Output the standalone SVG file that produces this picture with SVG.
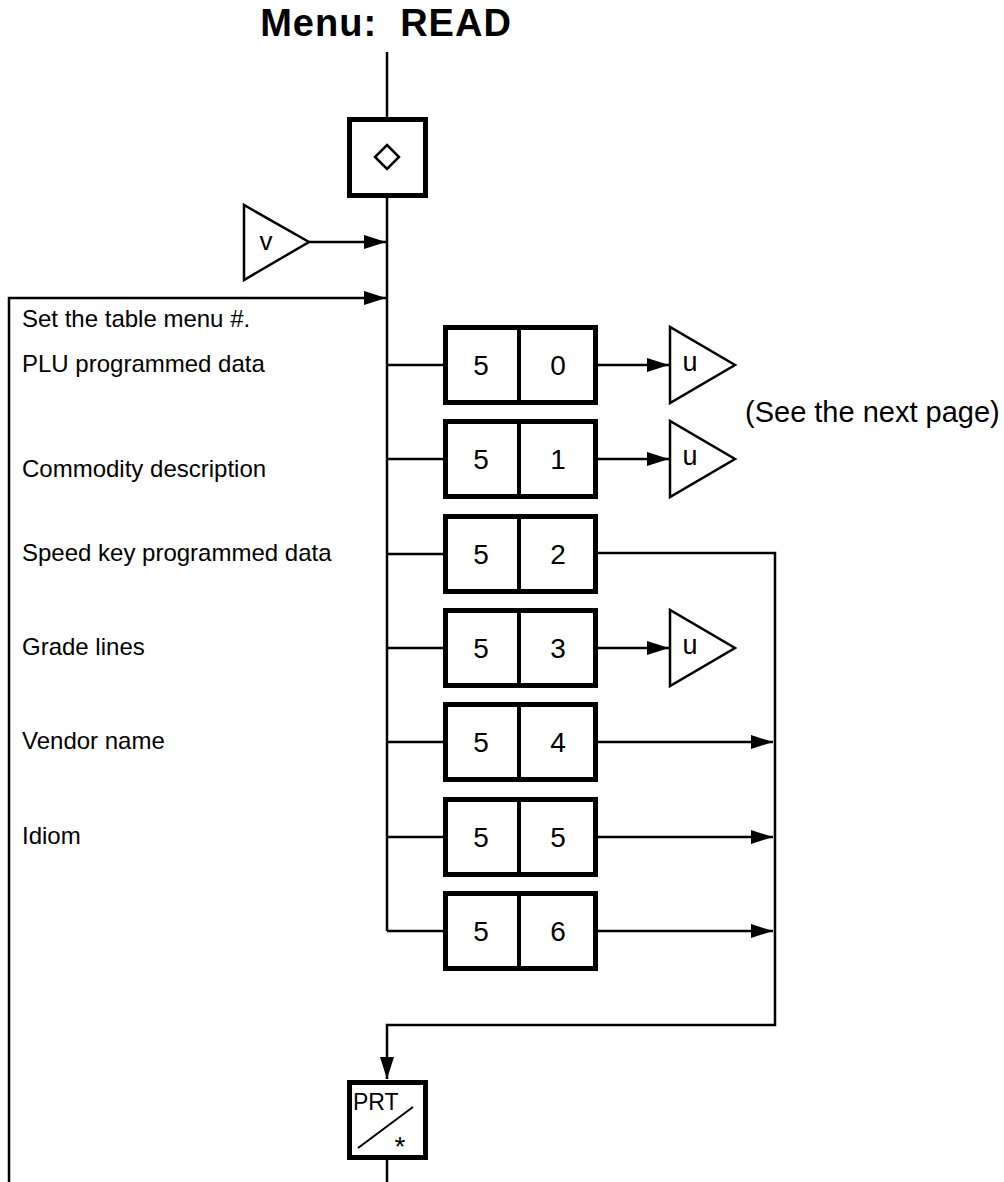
<svg xmlns="http://www.w3.org/2000/svg" width="1004" height="1182" viewBox="0 0 1004 1182">
<style>
text{font-family:"Liberation Sans",Arial,sans-serif;fill:#000}
.ln{fill:none;stroke:#000;stroke-width:2.5}
.box{fill:#fff;stroke:#000;stroke-width:5}
.div{stroke:#000;stroke-width:4}
.tri{fill:#fff;stroke:#000;stroke-width:2.5;stroke-linejoin:miter}
.lbl{font-size:24px}
.dig{font-size:28px;text-anchor:middle}
.sym{font-size:27px;text-anchor:middle}
</style>
<defs>
<marker id="ah" markerUnits="userSpaceOnUse" markerWidth="22" markerHeight="14" viewBox="0 0 22 14" refX="22" refY="7" orient="auto">
<path d="M0,0 L22,7 L0,14 Z" fill="#000"/>
</marker>
</defs>
<text x="386" y="36" font-size="38" font-weight="bold" letter-spacing="1" text-anchor="middle" xml:space="preserve">Menu:  READ</text>
<g id="connectors">
<line class="ln" x1="387" y1="52" x2="387" y2="931"/>
<line class="ln" x1="309" y1="242" x2="386" y2="242" marker-end="url(#ah)"/>
<polyline class="ln" points="9,1182 9,298 386,298" marker-end="url(#ah)"/>
<polyline class="ln" points="387,365 443,365"/>
<polyline class="ln" points="387,459 443,459"/>
<polyline class="ln" points="387,554 443,554"/>
<polyline class="ln" points="387,648 443,648"/>
<polyline class="ln" points="387,742 443,742"/>
<polyline class="ln" points="387,837 443,837"/>
<polyline class="ln" points="387,931 443,931"/>
<line class="ln" x1="597" y1="365" x2="669" y2="365" marker-end="url(#ah)"/>
<line class="ln" x1="597" y1="459" x2="669" y2="459" marker-end="url(#ah)"/>
<line class="ln" x1="597" y1="648" x2="669" y2="648" marker-end="url(#ah)"/>
<polyline class="ln" points="597,553 775,553 775,1025 387,1025 387,1079" marker-end="url(#ah)"/>
<line class="ln" x1="597" y1="742" x2="773" y2="742" marker-end="url(#ah)"/>
<line class="ln" x1="597" y1="837" x2="773" y2="837" marker-end="url(#ah)"/>
<line class="ln" x1="597" y1="931" x2="773" y2="931" marker-end="url(#ah)"/>
<line class="ln" x1="387" y1="1160" x2="387" y2="1182"/>
</g>
<g id="start">
<rect class="box" x="349.5" y="119.5" width="76" height="76"/>
<path d="M387,145 L399,157 L387,169 L375,157 Z" fill="#fff" stroke="#000" stroke-width="2.5"/>
</g>
<g id="v-entry">
<polygon class="tri" points="244,205 244,280 309,242"/>
<text x="266" y="250" font-size="26" text-anchor="middle">v</text>
</g>
<g id="labels">
<text class="lbl" x="22" y="327">Set the table menu #.</text>
<text class="lbl" x="22" y="372">PLU programmed data</text>
<text class="lbl" x="22" y="477">Commodity description</text>
<text class="lbl" x="22" y="561">Speed key programmed data</text>
<text class="lbl" x="22" y="655">Grade lines</text>
<text class="lbl" x="22" y="749">Vendor name</text>
<text class="lbl" x="22" y="844">Idiom</text>
</g>
<g id="k50"><rect class="box" x="445.5" y="327.5" width="150" height="75"/><line class="div" x1="519" y1="327" x2="519" y2="403"/><text class="dig" x="481" y="375">5</text><text class="dig" x="558" y="375">0</text></g>
<g id="k51"><rect class="box" x="445.5" y="421.5" width="150" height="75"/><line class="div" x1="519" y1="421" x2="519" y2="497"/><text class="dig" x="481" y="469">5</text><text class="dig" x="558" y="469">1</text></g>
<g id="k52"><rect class="box" x="445.5" y="516.5" width="150" height="75"/><line class="div" x1="519" y1="516" x2="519" y2="592"/><text class="dig" x="481" y="564">5</text><text class="dig" x="558" y="564">2</text></g>
<g id="k53"><rect class="box" x="445.5" y="610.5" width="150" height="75"/><line class="div" x1="519" y1="610" x2="519" y2="686"/><text class="dig" x="481" y="658">5</text><text class="dig" x="558" y="658">3</text></g>
<g id="k54"><rect class="box" x="445.5" y="704.5" width="150" height="75"/><line class="div" x1="519" y1="704" x2="519" y2="780"/><text class="dig" x="481" y="752">5</text><text class="dig" x="558" y="752">4</text></g>
<g id="k55"><rect class="box" x="445.5" y="799.5" width="150" height="75"/><line class="div" x1="519" y1="799" x2="519" y2="875"/><text class="dig" x="481" y="847">5</text><text class="dig" x="558" y="847">5</text></g>
<g id="k56"><rect class="box" x="445.5" y="893.5" width="150" height="75"/><line class="div" x1="519" y1="893" x2="519" y2="969"/><text class="dig" x="481" y="941">5</text><text class="dig" x="558" y="941">6</text></g>
<g id="u0"><polygon class="tri" points="670,327 670,403 735,365"/><text class="sym" x="690" y="371">u</text></g>
<g id="u1"><polygon class="tri" points="670,421 670,497 735,459"/><text class="sym" x="690" y="465">u</text></g>
<g id="u3"><polygon class="tri" points="670,610 670,686 735,648"/><text class="sym" x="690" y="654">u</text></g>
<text x="745" y="422" font-size="29">(See the next page)</text>
<g id="prt">
<rect class="box" x="349.5" y="1082.5" width="76" height="75"/>
<text x="353" y="1110" font-size="23">PRT</text>
<line x1="358" y1="1148" x2="413" y2="1107" stroke="#000" stroke-width="2"/>
<text x="400" y="1156" font-size="28" text-anchor="middle">*</text>
</g>
</svg>
